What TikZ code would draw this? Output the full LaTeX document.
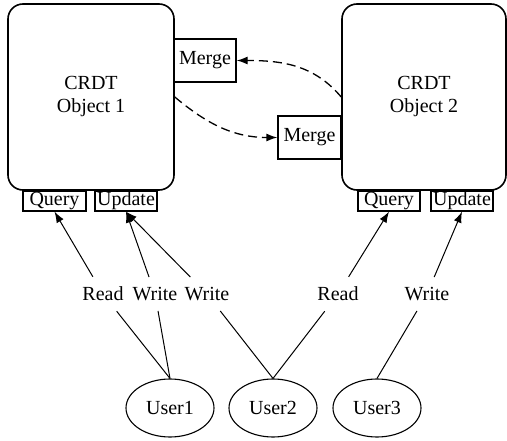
\documentclass[tikz,border=0pt]{standalone}
\usepackage{fontspec}
\setmainfont{Liberation Serif}
\usetikzlibrary{arrows.meta,shapes.geometric}
\begin{document}
\begin{tikzpicture}[x=1pt,y=-1pt,
  font=\fontsize{20}{23}\selectfont,
  crdt/.style={draw,line width=1.6pt,rounded corners=15pt,align=center,inner sep=0pt},
  port/.style={draw,line width=1.3pt,inner sep=0pt,minimum height=20pt},
  user/.style={draw,ellipse,line width=1.1pt,inner sep=0pt,minimum width=88pt,minimum height=58pt},
  lbl/.style={inner xsep=4pt,inner ysep=10pt},
  arr/.style={line width=1pt,-{Latex[length=11pt,width=8pt]}},
  ln/.style={line width=1pt},
  dasharr/.style={line width=1.3pt,dash pattern=on 9pt off 5pt,-{Latex[length=11pt,width=8pt]}}
]
\useasboundingbox (0,0) rectangle (507,441);
% CRDT objects
\node[crdt,minimum width=166pt,minimum height=186pt] (obj1) at (91,97) {CRDT\\Object 1};
\node[crdt,minimum width=164pt,minimum height=186pt] (obj2) at (424,97) {CRDT\\Object 2};
% Merge ports
\node[port,minimum width=62pt,minimum height=43pt] (m1) at (205,60.5) {Merge};
\node[port,minimum width=63pt,minimum height=43pt] (m2) at (309.5,137.5) {Merge};
% Query / Update ports
\node[port,minimum width=63pt] (q1) at (54.5,201) {Query};
\node[port,minimum width=62pt] (up1) at (126,201) {Update};
\node[port,minimum width=62pt] (q2) at (389,201) {Query};
\node[port,minimum width=62pt] (up2) at (462,201) {Update};
% dashed merges
\draw[dasharr] (obj1.east) to[out=-40,in=180] (m2.west);
\draw[dasharr] (obj2.west) to[out=130,in=0] (m1.east);
% labels
\node[lbl] (r1) at (103,294) {Read};
\node[lbl] (w1) at (155,294) {Write};
\node[lbl] (w2) at (207,294) {Write};
\node[lbl] (r2) at (338,294) {Read};
\node[lbl] (w3) at (427,294) {Write};
% users
\node[user] (u1) at (170,408) {User1};
\node[user] (u2) at (273,408) {User2};
\node[user] (u3) at (377,408) {User3};
% arrows
\draw[arr] (r1) -- (q1.south);
\draw[arr] (w1) -- (up1.south);
\draw[arr] (w2) -- (up1.south);
\draw[arr] (r2) -- (q2.south);
\draw[arr] (w3) -- (up2.south);
% lines
\draw[ln] (u1.north) -- (r1);
\draw[ln] (u1.north) -- (w1);
\draw[ln] (u2.north) -- (w2);
\draw[ln] (u2.north) -- (r2);
\draw[ln] (u3.north) -- (w3);
\end{tikzpicture}
\end{document}
